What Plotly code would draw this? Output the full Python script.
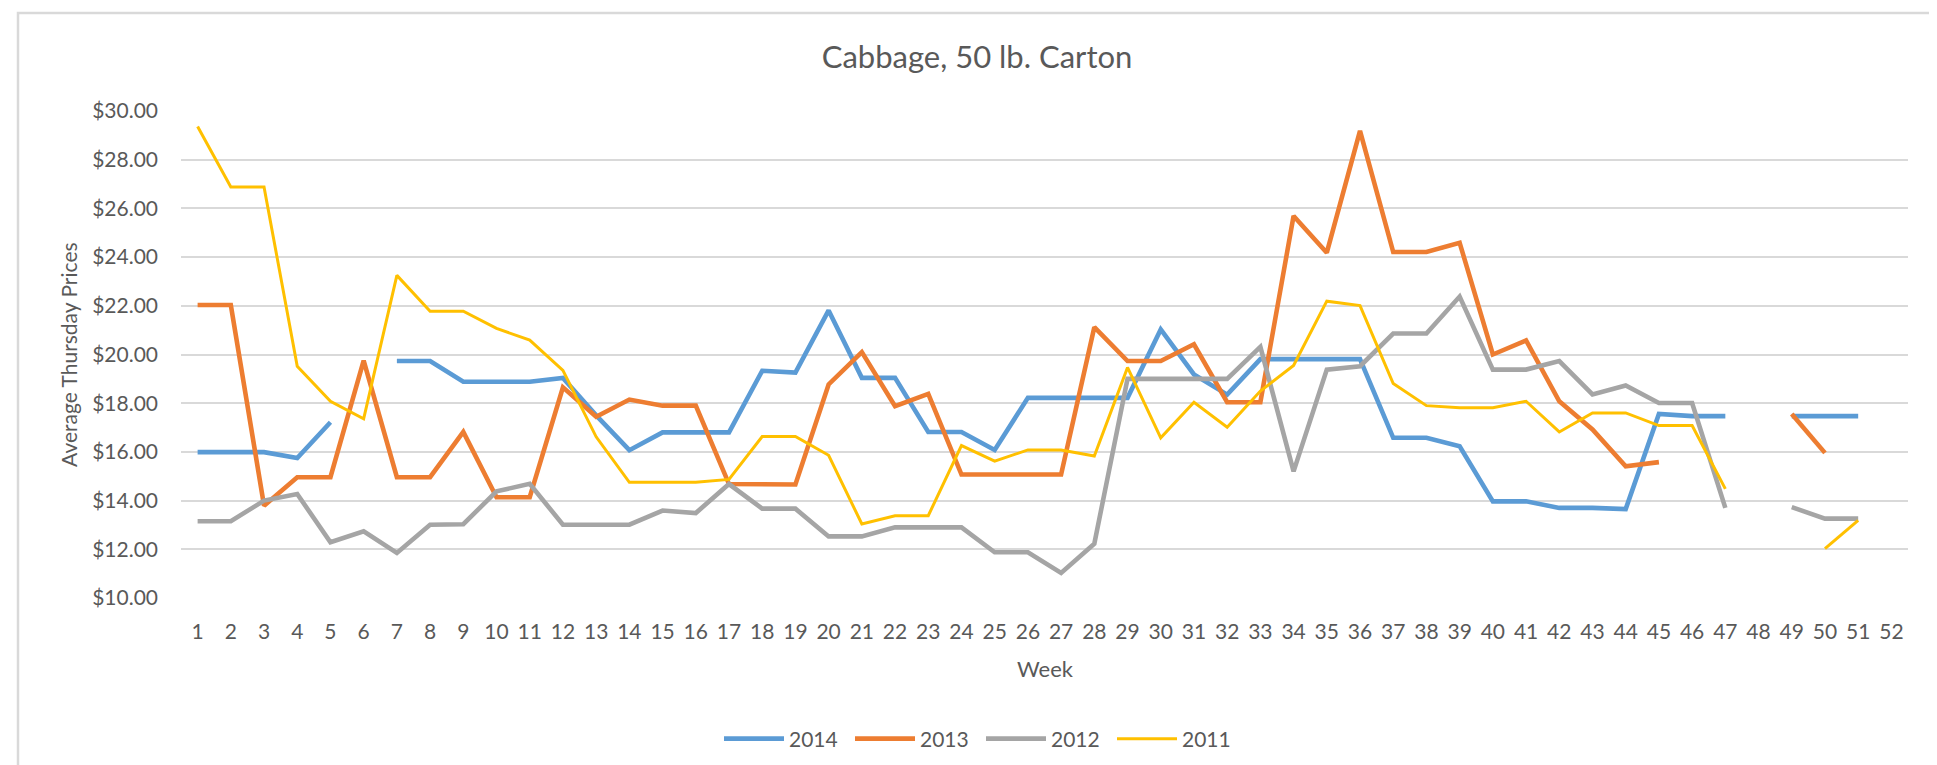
import plotly.graph_objects as go

weeks = list(range(1, 53))
tick_labels = [str(w) for w in weeks]

y2014 = [15.99, 15.99, 15.99, 15.75, 17.22, None, 19.73, 19.73, 18.88, 18.88,
         18.88, 19.04, 17.5, 16.07, 16.8, 16.8, 16.8, 19.33, 19.26, 21.81,
         19.04, 19.04, 16.82, 16.82, 16.08, 18.22, 18.22, 18.22, 18.22, 21.03,
         19.18, 18.35, 19.81, 19.81, 19.81, 19.81, 16.58, 16.58, 16.23, 13.97,
         13.97, 13.7, 13.7, 13.65, 17.56, 17.47, 17.47, None, 17.47, 17.47,
         17.47, None]

y2013 = [22.03, 22.03, 13.79, 14.96, 14.96, 19.75, 14.96, 14.96, 16.82, 14.14,
         14.14, 18.65, 17.44, 18.15, 17.9, 17.9, 14.68, 14.66, 14.66, 18.77,
         20.1, 17.88, 18.38, 15.07, 15.07, 15.07, 15.07, 21.12, 19.73, 19.73,
         20.42, 18.04, 18.04, 25.69, 24.18, 29.18, 24.21, 24.21, 24.59, 20.0,
         20.58, 18.08, 16.92, 15.41, 15.58, None, None, None, 17.56, 15.96,
         None, None]

y2012 = [13.15, 13.15, 14.0, 14.27, 12.29, 12.74, 11.85, 13.01, 13.03, 14.38,
         14.69, 13.01, 13.01, 13.01, 13.59, 13.49, 14.68, 13.67, 13.67, 12.53,
         12.53, 12.9, 12.9, 12.9, 11.88, 11.88, 11.03, 12.23, 19.0, 19.0,
         19.0, 19.0, 20.31, 15.2, 19.38, 19.52, 20.86, 20.86, 22.38, 19.38,
         19.38, 19.73, 18.36, 18.73, 18.01, 18.01, 13.7, None, 13.73, 13.26,
         13.26, None]

y2011 = [29.36, 26.88, 26.88, 19.52, 18.08, 17.36, 23.25, 21.78, 21.78, 21.07,
         20.59, 19.35, 16.62, 14.75, 14.75, 14.75, 14.87, 16.63, 16.63, 15.86,
         13.04, 13.38, 13.38, 16.26, 15.62, 16.08, 16.08, 15.83, 19.47, 16.58,
         18.04, 17.01, 18.5, 19.55, 22.19, 22.01, 18.81, 17.9, 17.81, 17.81,
         18.08, 16.82, 17.6, 17.6, 17.08, 17.08, 14.48, None, None, 12.03,
         13.19, None]

series_names = ["2014", "2013", "2012", "2011"]
series_values = [y2014, y2013, y2012, y2011]
series_colors = ["#5B9BD5", "#ED7D31", "#A5A5A5", "#FFC000"]
series_widths = [4.6, 4.6, 4.6, 3.0]

FONT = "Lato, 'Open Sans', sans-serif"
TEXT = "#595959"

fig = go.Figure()
for name, vals, col, w in zip(series_names, series_values, series_colors, series_widths):
    fig.add_trace(go.Scatter(
        x=weeks, y=vals, name=name, mode="lines",
        line=dict(color=col, width=w),
        connectgaps=False,
    ))

W, H = 1937, 765
L, R, T, B = 173, 37, 103, 175
pw = W - L - R
ph = H - T - B

def px_x(x):
    return (x - L) / pw

def px_y(y):
    return (H - B - y) / ph

fig.update_layout(
    width=W, height=H,
    margin=dict(l=L, r=R, t=T, b=B, pad=0),
    paper_bgcolor="white", plot_bgcolor="white",
    font=dict(family=FONT, color=TEXT, size=21),
    title=dict(text="Cabbage, 50 lb. Carton", x=969 / W, xanchor="center",
               xref="container", yref="container", y=1 - 49 / H, yanchor="middle",
               font=dict(size=31, color=TEXT, family=FONT)),
    xaxis=dict(range=[0.5, 52.5], tickmode="array", tickvals=weeks, ticktext=tick_labels,
               showgrid=False, zeroline=False, showline=False, ticks="",
               tickfont=dict(size=21, color=TEXT), ticklabelstandoff=19),
    yaxis=dict(range=[10, 30], dtick=2, tick0=10, tickprefix="$", tickformat=".2f",
               showgrid=True, gridcolor="#D9D9D9", gridwidth=1.6, zeroline=False,
               showline=False, ticks="", tickfont=dict(size=21, color=TEXT),
               ticklabelstandoff=22),
    showlegend=True,
    legend=dict(orientation="h", x=px_x(973), xanchor="center", y=px_y(731),
                yanchor="middle", font=dict(size=21, color=TEXT),
                bgcolor="rgba(0,0,0,0)", itemwidth=60, entrywidth=56,
                traceorder="normal"),
    annotations=[
        dict(text="Average Thursday Prices", xref="paper", yref="paper",
             x=px_x(60), y=px_y(347), xanchor="center", yanchor="middle",
             textangle=-90, showarrow=False, font=dict(size=21, color=TEXT, family=FONT)),
        dict(text="Week", xref="paper", yref="paper",
             x=px_x(1037), y=px_y(660), xanchor="center", yanchor="middle",
             showarrow=False, font=dict(size=22, color=TEXT, family=FONT)),
    ],
    shapes=[
        dict(type="rect", xref="paper", yref="paper",
             x0=px_x(10), x1=px_x(1930), y0=px_y(800), y1=px_y(5),
             line=dict(color="#D9D9D9", width=2.5), fillcolor="rgba(0,0,0,0)", layer="below"),
    ],
)

fig.write_html("out.html")
